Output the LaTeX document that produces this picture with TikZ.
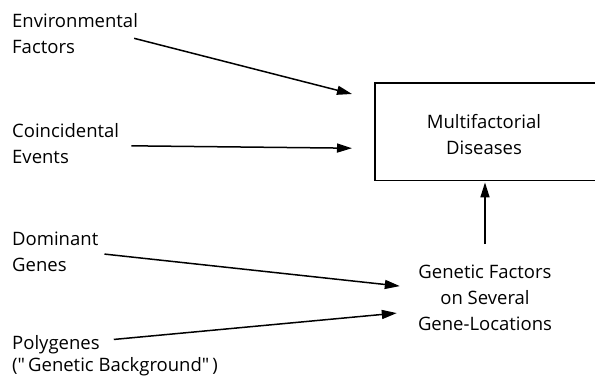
\documentclass[tikz,border=0pt]{standalone}
\usepackage{fontspec}
\setmainfont{Open Sans}
\usetikzlibrary{arrows.meta,positioning}

\begin{document}
\begin{tikzpicture}[x=1pt,y=-1pt,
  lbl/.style={inner sep=0pt,align=left,anchor=north west,font=\fontsize{18.5}{26}\selectfont},
  ctr/.style={inner sep=0pt,align=center,anchor=north,font=\fontsize{18.5}{26}\selectfont},
  arr/.style={line width=1.5pt,-{Triangle[length=15pt,width=9pt]}}]
\useasboundingbox (0,0) rectangle (595,378);
%================================================================
%	Box
\node[anchor=north west,minimum width=240pt,minimum height=97pt] (mfbox) at (375,83) {};
\draw[line width=1.8pt] (mfbox.north east) -- (mfbox.north west) -- (mfbox.south west) -- (mfbox.south east);
\node[ctr] (mf) at (484,114) {Multifactorial\\Diseases};
\node[ctr] (gen) at (485,265) {Genetic Factors\\on Several\\Gene-Locations};

%================================================================
%	Left labels
\node[lbl] (env) at (12,13) {Environmental\\Factors};
\node[lbl] (coin) at (12,123) {Coincidental\\Events};
\node[lbl] (dom) at (12,232) {Dominant\\Genes};
\node[lbl] (poly) at (12,335) {Polygenes};
\node[lbl] (bg) at (12,357) {(\textquotedbl\,Genetic Background\textquotedbl\,)};

%================================================================
%	Arrows
\draw[arr] ([xshift=-4pt,yshift=-5pt]env.east) -- ([xshift=-23pt,yshift=-11pt]mfbox.north west);
\draw[arr] ([xshift=12pt,yshift=-2.5pt]coin.east) -- ([xshift=-23pt,yshift=-16.5pt]mfbox.west);
\draw[arr] ([xshift=6pt,yshift=-2pt]dom.east) -- ([xshift=-18pt,yshift=12pt]gen.west);
\draw[arr] ([xshift=14pt,yshift=5pt]poly.east) -- ([xshift=-21pt,yshift=-15pt]gen.west);
\draw[arr] ([yshift=21pt]gen.north) -- ([yshift=-2pt]gen.north |- mfbox.south);
%================================================================
\end{tikzpicture}
\end{document}
